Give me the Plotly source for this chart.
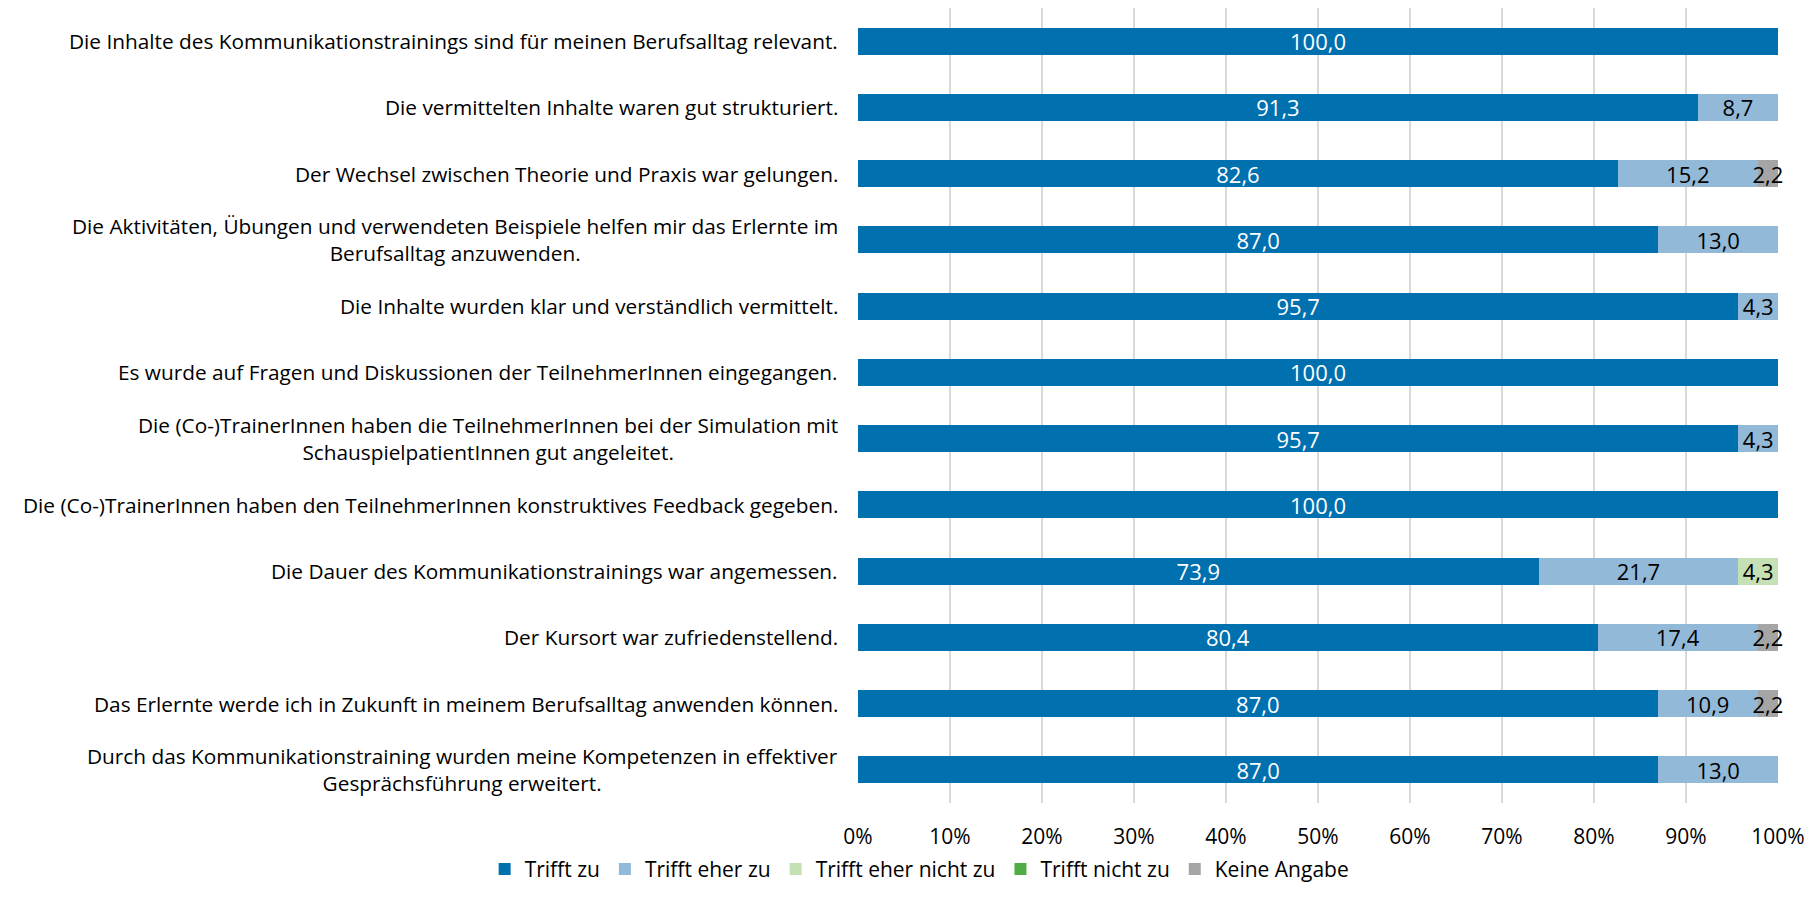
import plotly.graph_objects as go

categories = [
    "Die Inhalte des Kommunikationstrainings sind für meinen Berufsalltag relevant.",
    "Die vermittelten Inhalte waren gut strukturiert.",
    "Der Wechsel zwischen Theorie und Praxis war gelungen.",
    "Die Aktivitäten, Übungen und verwendeten Beispiele helfen mir das Erlernte im<br>Berufsalltag anzuwenden.",
    "Die Inhalte wurden klar und verständlich vermittelt.",
    "Es wurde auf Fragen und Diskussionen der TeilnehmerInnen eingegangen.",
    "Die (Co-)TrainerInnen haben die TeilnehmerInnen bei der Simulation mit<br>SchauspielpatientInnen gut angeleitet.",
    "Die (Co-)TrainerInnen haben den TeilnehmerInnen konstruktives Feedback gegeben.",
    "Die Dauer des Kommunikationstrainings war angemessen.",
    "Der Kursort war zufriedenstellend.",
    "Das Erlernte werde ich in Zukunft in meinem Berufsalltag anwenden können.",
    "Durch das Kommunikationstraining wurden meine Kompetenzen in effektiver<br>Gesprächsführung erweitert.",
]

series_names = ["Trifft zu", "Trifft eher zu", "Trifft eher nicht zu", "Trifft nicht zu", "Keine Angabe"]
trifft_zu = [100.0, 91.3, 82.6, 87.0, 95.7, 100.0, 95.7, 100.0, 73.9, 80.4, 87.0, 87.0]
trifft_eher_zu = [0, 8.7, 15.2, 13.0, 4.3, 0, 4.3, 0, 21.7, 17.4, 10.9, 13.0]
trifft_eher_nicht_zu = [0, 0, 0, 0, 0, 0, 0, 0, 4.3, 0, 0, 0]
trifft_nicht_zu = [0, 0, 0, 0, 0, 0, 0, 0, 0, 0, 0, 0]
keine_angabe = [0, 0, 2.2, 0, 0, 0, 0, 0, 0, 2.2, 2.2, 0]

series_values = [trifft_zu, trifft_eher_zu, trifft_eher_nicht_zu, trifft_nicht_zu, keine_angabe]
colors = ["#0070AF", "#93B9D9", "#C5E0B4", "#4EAD45", "#A5A5A5"]
text_colors = ["white", "black", "black", "black", "black"]
x_ticks = [0, 10, 20, 30, 40, 50, 60, 70, 80, 90, 100]
x_ticklabels = [f"{t}%" for t in x_ticks]

FONT = "Open Sans, sans-serif"
FS_LABEL = 20.8
FS_VALUE = 22
FS_TICK = 21
FS_LEGEND = 21

ys = list(range(len(categories)))

fig = go.Figure()
for name, vals, col, tcol in zip(series_names, series_values, colors, text_colors):
    fig.add_trace(go.Bar(
        y=ys, x=vals, name=name, orientation="h",
        marker=dict(color=col, line=dict(width=0)),
        text=[(f"{v:.1f}".replace(".", ",") if v > 0 else "") for v in vals],
        textposition="inside", insidetextanchor="middle", textangle=0,
        textfont=dict(color=tcol, size=FS_VALUE, family=FONT),
        cliponaxis=False,
    ))

for i, cat in enumerate(categories):
    fig.add_annotation(
        x=0, xref="paper", xanchor="right", xshift=-18,
        y=i, yref="y", yanchor="middle",
        text=cat, align="center", showarrow=False,
        font=dict(size=FS_LABEL, family=FONT, color="black"),
    )

fig.update_layout(
    width=1800, height=884,
    margin=dict(l=850, r=30, t=0, b=89, autoexpand=False),
    barmode="stack", barnorm="percent", bargap=0.59,
    plot_bgcolor="white", paper_bgcolor="white",
    uniformtext=dict(minsize=FS_VALUE, mode="show"),
    font=dict(family=FONT, size=FS_LABEL, color="black"),
    showlegend=True,
    legend=dict(orientation="h", x=0.067, xanchor="center",
                y=-0.1094, yanchor="bottom",
                font=dict(size=FS_LEGEND, family=FONT), itemclick=False, traceorder="normal",
                itemwidth=30),
    xaxis=dict(range=[0, 100], tickvals=x_ticks, ticktext=x_ticklabels,
               showgrid=True, gridcolor="#D9D9D9", gridwidth=1.5,
               zeroline=False, showline=False, ticks="", ticklabelstandoff=19,
               tickfont=dict(size=FS_TICK, family=FONT)),
    yaxis=dict(range=[len(categories) - 0.5, -0.5], showticklabels=False,
               showgrid=False, zeroline=False, showline=False, ticks=""),
)

fig.write_html("out.html")
